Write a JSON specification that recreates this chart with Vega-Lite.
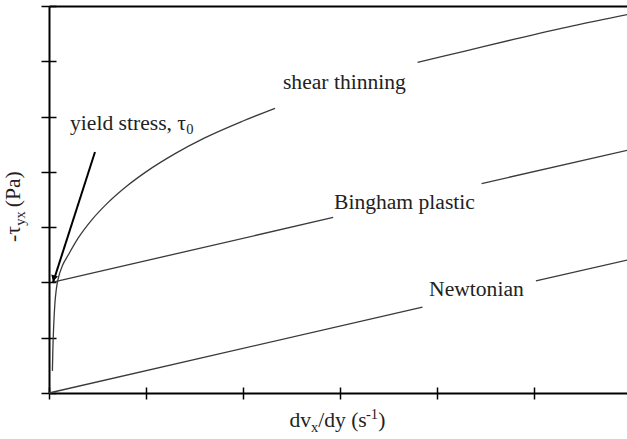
{
  "$schema": "https://vega.github.io/schema/vega-lite/v6.json",
  "width": 578,
  "height": 387,
  "autosize": {"type": "none"},
  "padding": {"left": 49, "top": 6, "right": 0, "bottom": 46},
  "background": "white",
  "config": {
    "view": {"stroke": null},
    "axis": {"grid": false, "labels": false, "title": null, "domainColor": "black", "tickColor": "black"}
  },
  "datasets": {
    "curves": [
      {"series": "Newtonian", "segment": "N1", "x": 0, "y": 0},
      {"series": "Newtonian", "segment": "N1", "x": 3.85, "y": 1.553},
      {"series": "Newtonian", "segment": "N2", "x": 5.02, "y": 2.026},
      {"series": "Newtonian", "segment": "N2", "x": 5.98, "y": 2.413},
      {"series": "Bingham", "segment": "B1", "x": 0.03, "y": 2.0},
      {"series": "Bingham", "segment": "B1", "x": 2.93, "y": 3.175},
      {"series": "Bingham", "segment": "B2", "x": 4.46, "y": 3.788},
      {"series": "Bingham", "segment": "B2", "x": 5.98, "y": 4.398},
      {"series": "Shear", "segment": "S1", "x": 0.035, "y": 0.4},
      {"series": "Shear", "segment": "S1", "x": 0.04, "y": 0.8},
      {"series": "Shear", "segment": "S1", "x": 0.048, "y": 1.2},
      {"series": "Shear", "segment": "S1", "x": 0.06, "y": 1.6},
      {"series": "Shear", "segment": "S1", "x": 0.075, "y": 1.87},
      {"series": "Shear", "segment": "S1", "x": 0.095, "y": 2.07},
      {"series": "Shear", "segment": "S1", "x": 0.14, "y": 2.31},
      {"series": "Shear", "segment": "S1", "x": 0.2, "y": 2.5},
      {"series": "Shear", "segment": "S1", "x": 0.3, "y": 2.8},
      {"series": "Shear", "segment": "S1", "x": 0.45, "y": 3.15},
      {"series": "Shear", "segment": "S1", "x": 0.6, "y": 3.43},
      {"series": "Shear", "segment": "S1", "x": 0.8, "y": 3.74},
      {"series": "Shear", "segment": "S1", "x": 1.0, "y": 4.0},
      {"series": "Shear", "segment": "S1", "x": 1.3, "y": 4.33},
      {"series": "Shear", "segment": "S1", "x": 1.6, "y": 4.61},
      {"series": "Shear", "segment": "S1", "x": 2.0, "y": 4.92},
      {"series": "Shear", "segment": "S1", "x": 2.33, "y": 5.15},
      {"series": "Shear", "segment": "S2", "x": 3.8, "y": 5.98},
      {"series": "Shear", "segment": "S2", "x": 4.3, "y": 6.19},
      {"series": "Shear", "segment": "S2", "x": 4.8, "y": 6.4},
      {"series": "Shear", "segment": "S2", "x": 5.4, "y": 6.64},
      {"series": "Shear", "segment": "S2", "x": 5.98, "y": 6.85}
    ],
    "yieldLine": [
      {"x": 0.04, "y": 1.99},
      {"x": 0.474, "y": 4.36}
    ],
    "arrow": [
      {"x": 0.052, "y": 2.09}
    ],
    "labelsMain": [
      {"text": "shear thinning", "x": 2.412, "y": 5.497},
      {"text": "Bingham plastic", "x": 2.938, "y": 3.327},
      {"text": "Newtonian", "x": 3.918, "y": 1.754},
      {"text": "yield stress, τ", "x": 0.2165, "y": 4.756},
      {"text": "dv", "x": 2.48, "y": -0.615},
      {"text": "/dy (s", "x": 2.775, "y": -0.615},
      {"text": ")", "x": 3.395, "y": -0.615}
    ],
    "labelsSmall": [
      {"text": "0", "x": 1.415, "y": 4.684},
      {"text": "x", "x": 2.7, "y": -0.705},
      {"text": "-1", "x": 3.268, "y": -0.47}
    ],
    "rotMain": [
      {"text": "-τ", "x": -0.299, "y": 2.731},
      {"text": "(Pa)", "x": -0.299, "y": 3.36}
    ],
    "rotSmall": [
      {"text": "yx", "x": -0.247, "y": 3.025}
    ]
  },
  "layer": [
    {
      "data": {"name": "curves"},
      "mark": {"type": "line", "color": "#3a3a3a", "strokeWidth": 1.3, "interpolate": "monotone"},
      "encoding": {
        "x": {"field": "x", "type": "quantitative", "scale": {"domain": [0, 5.959], "nice": false, "zero": false},
              "axis": {"orient": "bottom", "values": [0, 1, 2, 3, 4, 5], "domainWidth": 2, "tickSize": 6, "tickWidth": 1.5}},
        "y": {"field": "y", "type": "quantitative", "scale": {"domain": [0, 7], "nice": false, "zero": false},
              "axis": {"orient": "left", "values": [0, 1, 2, 3, 4, 5, 6, 7], "domainWidth": 2, "tickSize": 8, "tickWidth": 1.5}},
        "detail": {"field": "segment"}
      }
    },
    {
      "data": {"name": "yieldLine"},
      "mark": {"type": "line", "color": "black", "strokeWidth": 2},
      "encoding": {
        "x": {"field": "x", "type": "quantitative",
              "axis": {"orient": "bottom", "values": [0, 1, 2, 3, 4, 5], "domain": false, "tickSize": -6, "tickWidth": 1.5}},
        "y": {"field": "y", "type": "quantitative",
              "axis": {"orient": "left", "values": [0, 1, 2, 3, 4, 5, 6, 7], "domain": false, "tickSize": -7, "tickWidth": 1.5}}
      }
    },
    {
      "data": {"name": "arrow"},
      "mark": {"type": "point", "shape": "triangle", "filled": true, "color": "black", "size": 50, "angle": 198, "opacity": 1},
      "encoding": {
        "x": {"field": "x", "type": "quantitative",
              "axis": {"orient": "top", "values": [], "domain": true, "domainWidth": 2, "ticks": false}},
        "y": {"field": "y", "type": "quantitative", "axis": null}
      }
    },
    {
      "data": {"name": "labelsMain"},
      "mark": {"type": "text", "align": "left", "baseline": "alphabetic", "font": "Liberation Serif", "fontSize": 21.6, "color": "#222222"},
      "encoding": {
        "x": {"field": "x", "type": "quantitative", "axis": null},
        "y": {"field": "y", "type": "quantitative", "axis": null},
        "text": {"field": "text"}
      }
    },
    {
      "data": {"name": "labelsSmall"},
      "mark": {"type": "text", "align": "left", "baseline": "alphabetic", "font": "Liberation Serif", "fontSize": 14.5, "color": "#222222"},
      "encoding": {
        "x": {"field": "x", "type": "quantitative", "axis": null},
        "y": {"field": "y", "type": "quantitative", "axis": null},
        "text": {"field": "text"}
      }
    },
    {
      "data": {"name": "rotMain"},
      "mark": {"type": "text", "align": "left", "baseline": "alphabetic", "angle": 270, "font": "Liberation Serif", "fontSize": 21.6, "color": "#222222"},
      "encoding": {
        "x": {"field": "x", "type": "quantitative", "axis": null},
        "y": {"field": "y", "type": "quantitative", "axis": null},
        "text": {"field": "text"}
      }
    },
    {
      "data": {"name": "rotSmall"},
      "mark": {"type": "text", "align": "left", "baseline": "alphabetic", "angle": 270, "font": "Liberation Serif", "fontSize": 14.5, "color": "#222222"},
      "encoding": {
        "x": {"field": "x", "type": "quantitative", "axis": null},
        "y": {"field": "y", "type": "quantitative", "axis": null},
        "text": {"field": "text"}
      }
    }
  ],
  "resolve": {"scale": {"x": "shared", "y": "shared"}, "axis": {"x": "independent", "y": "independent"}}
}
